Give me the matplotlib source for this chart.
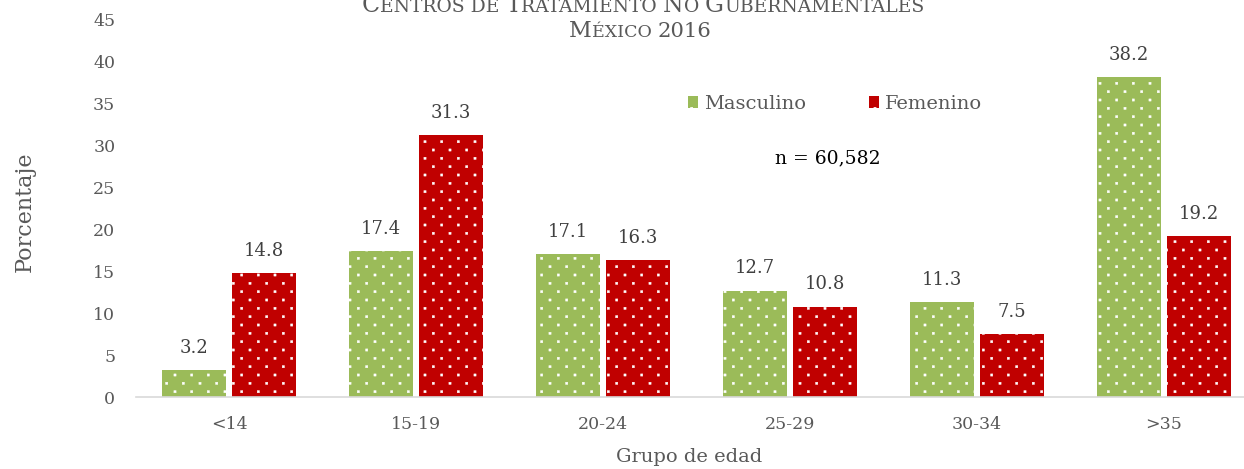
import matplotlib
matplotlib.use("Agg")
import matplotlib.pyplot as plt
import matplotlib.hatch as mh
from matplotlib.path import Path
import numpy as np

categories = ["<14", "15-19", "20-24", "25-29", "30-34", ">35"]
masculino = [3.2, 17.4, 17.1, 12.7, 11.3, 38.2]
femenino = [14.8, 31.3, 16.3, 10.8, 7.5, 19.2]
title_lines = ["Centros de Tratamiento No Gubernamentales", "México 2016"]
n_text = "n = 60,582"

FONT = "DejaVu Serif"
GREY = "#595959"
GREEN = "#9BBB59"
RED = "#C00000"


# Fine staggered square-dot hatch (Excel-like "dotted" pattern)
class FineDots(mh.HatchPatternBase):
    size = 0.022

    def __init__(self, hatch, density):
        self.n = hatch.count('.') * density
        if self.n == 0:
            self.num_vertices = 0
            return
        n = self.n
        self.num_shapes = (n + 1) * (n + 1) + n * n
        self.num_vertices = self.num_shapes * 5

    def set_vertices_and_codes(self, vertices, codes):
        n = self.n
        s = self.size / 2
        sq = np.array([[-s, -s], [s, -s], [s, s], [-s, s], [-s, -s]])
        sc = [Path.MOVETO, Path.LINETO, Path.LINETO, Path.LINETO, Path.CLOSEPOLY]
        cursor = 0
        for r in range(2 * n + 1):
            y = r / (2 * n)
            if r % 2 == 0:
                cols = np.arange(n + 1) / n
            else:
                cols = (np.arange(n) + 0.5) / n
            for xc in cols:
                vertices[cursor:cursor + 5] = sq + [xc, y]
                codes[cursor:cursor + 5] = sc
                cursor += 5


for i, ht in enumerate(mh._hatch_types):
    if ht is mh.SmallFilledCircles:
        mh._hatch_types[i] = FineDots

plt.rcParams["font.family"] = [FONT, "DejaVu Sans"]
plt.rcParams["hatch.linewidth"] = 0.3

W, H = 1244, 469
fig = plt.figure(figsize=(W / 100, H / 100), dpi=100)
left = 135.5 / W
right = 1257.5 / W
bottom = 1 - 397 / H
top = 1 - 20 / H
ax = fig.add_axes([left, bottom, right - left, top - bottom])

x = np.arange(len(categories))
w = 0.342
off = 0.186
b1 = ax.bar(x - off, masculino, w, color=GREEN, edgecolor="white", linewidth=0, hatch=".", label="Masculino")
b2 = ax.bar(x + off, femenino, w, color=RED, edgecolor="white", linewidth=0, hatch=".", label="Femenino")

for bars, vals in ((b1, masculino), (b2, femenino)):
    for r, v in zip(bars, vals):
        ax.annotate(f"{v:.1f}", (r.get_x() + r.get_width() / 2, v), xytext=(0, 9.5),
                    textcoords="offset points", ha="center", va="bottom",
                    fontsize=13, color="#404040")

ax.set_xlim(-0.5, len(categories) - 0.5)
ax.set_ylim(0, 45)
ax.set_yticks(np.arange(0, 46, 5))
ax.set_xticks(x)
ax.set_xticklabels(categories)
ax.tick_params(axis="both", length=0, labelsize=12.5, colors=GREY)
ax.tick_params(axis="x", pad=13.5)
ax.tick_params(axis="y", pad=14.5)
for s in ("top", "right", "left"):
    ax.spines[s].set_visible(False)
ax.spines["bottom"].set_color("#D9D9D9")
ax.spines["bottom"].set_linewidth(1.2)

fig.text(25 / W, 1 - 212 / H, "Porcentaje", rotation=90, ha="center", va="center",
         fontsize=16, color=GREY)
fig.text(689 / W, 1 - 457 / H, "Grupo de edad", ha="center", va="center",
         fontsize=14, color=GREY)

leg = ax.legend(loc="upper left", bbox_to_anchor=((680 / W - left) / (right - left), (1 - 87 / H - bottom) / (top - bottom)),
                ncol=2, frameon=False, fontsize=14, handlelength=0.55, handleheight=0.55,
                handletextpad=0.3, columnspacing=3.2, labelcolor=GREY, borderaxespad=0)

fig.text(828 / W, 1 - 158 / H, n_text, ha="center", va="center", fontsize=13.5, color="black")


def smallcaps(cx, cy, text, big, small, color=GREY):
    runs = []
    for ch in text:
        if ch.isupper():
            kind, c = "big", ch
        elif ch.isdigit():
            kind, c = "num", ch
        else:
            kind, c = "small", ch.upper()
        if runs and runs[-1][0] == kind:
            runs[-1][1] += c
        else:
            runs.append([kind, c])
    sizes = {"big": big, "small": small, "num": big * 0.95}
    texts = []
    for kind, s in runs:
        t = fig.text(0, cy, s, fontsize=sizes[kind], color=color, ha="left", va="baseline")
        texts.append(t)
    fig.canvas.draw()
    r = fig.canvas.get_renderer()
    widths = [t.get_window_extent(r).width for t in texts]
    total = sum(widths)
    xpos = cx * W - total / 2
    for t, wd in zip(texts, widths):
        t.set_x(xpos / W)
        xpos += wd


smallcaps(643 / W, 1 - 12 / H, title_lines[0], 17, 13.5)
smallcaps(640 / W, 1 - 37 / H, title_lines[1], 16, 12.5)

fig.savefig("out.png", dpi=100)
